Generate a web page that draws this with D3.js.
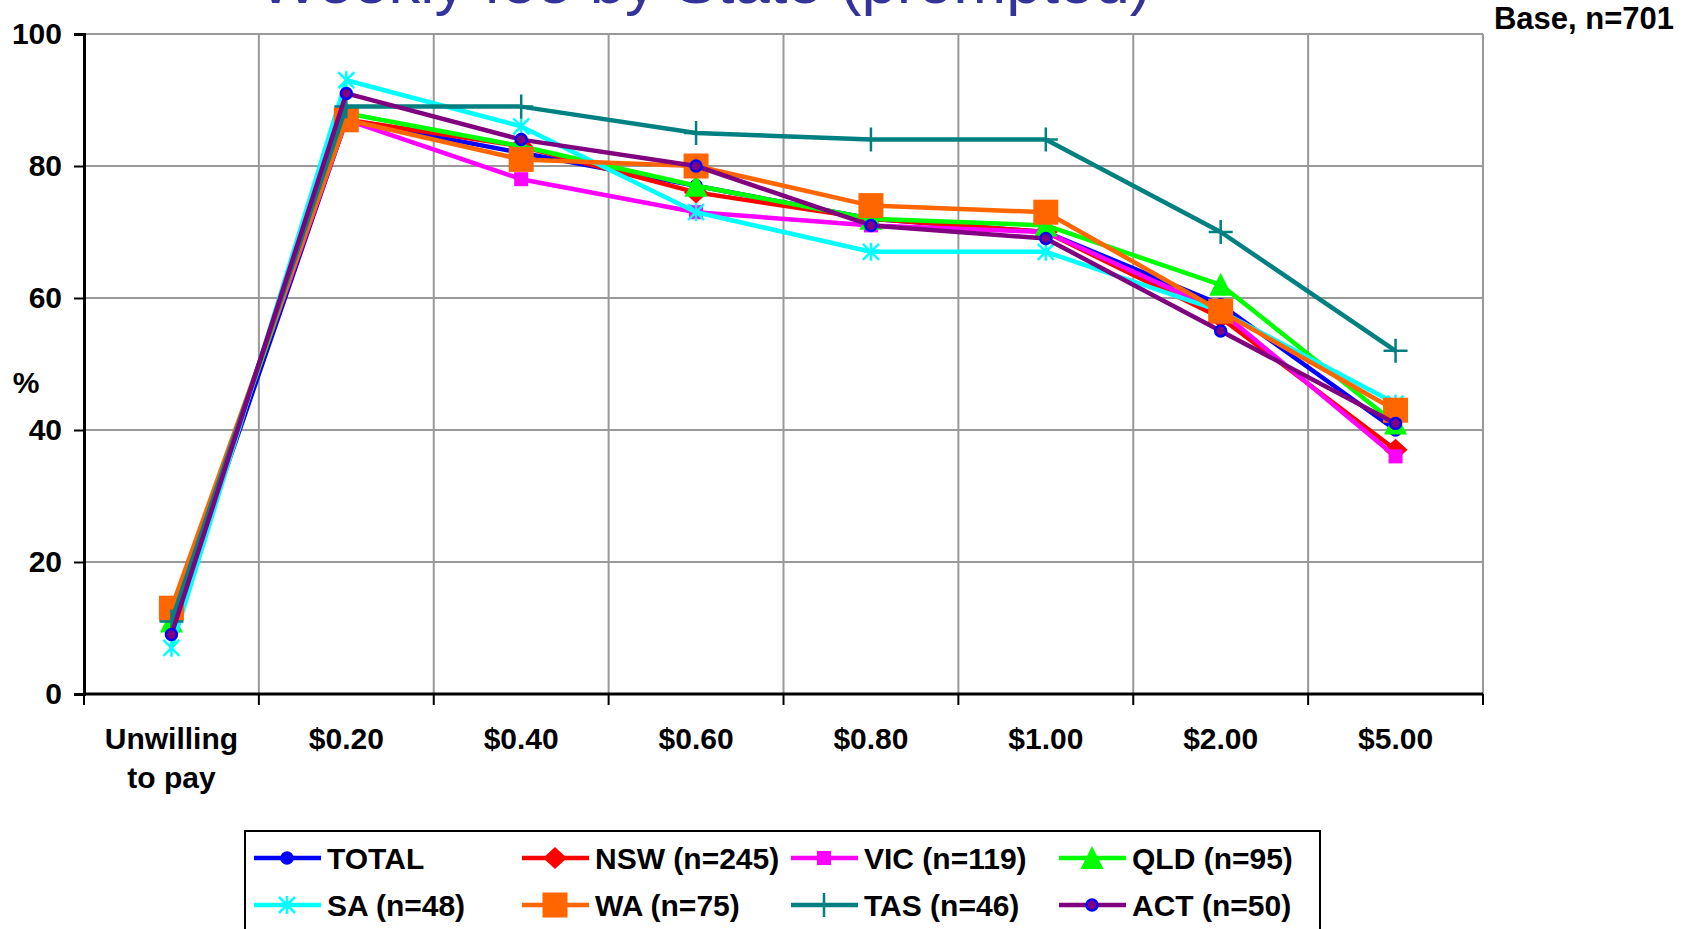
<!DOCTYPE html>
<html>
<head>
<meta charset="utf-8">
<script src="https://cdn.jsdelivr.net/npm/d3@7"></script>
<style>
  body { margin: 0; background: #fff; }
  svg { display: block; }
  text { font-family: 'Liberation Sans', Arial, sans-serif; }
</style>
</head>
<body>
<svg id="chart" width="1688" height="929"></svg>
<script>
// Price points offered
const categories = ["Unwilling to pay", "$0.20", "$0.40", "$0.60", "$0.80", "$1.00", "$2.00", "$5.00"];
const yTicks = [0, 20, 40, 60, 80, 100];

// % willing to pay, by state
const total = [10, 87, 82, 77, 72, 70, 59, 40];
const nsw   = [12, 87, 83, 76, 72, 70, 57, 37];
const vic   = [12, 87, 78, 73, 71, 70, 58, 36];
const qld   = [11, 88, 83, 77, 72, 71, 62, 41];
const sa    = [7, 93, 86, 73, 67, 67, 58, 44];
const wa    = [13, 87, 81, 80, 74, 73, 58, 43];
const tas   = [11, 89, 89, 85, 84, 84, 70, 52];
const act   = [9, 91, 84, 80, 71, 69, 55, 41];

const seriesNames = ["TOTAL", "NSW (n=245)", "VIC (n=119)", "QLD (n=95)",
                     "SA (n=48)", "WA (n=75)", "TAS (n=46)", "ACT (n=50)"];
const seriesValues = [total, nsw, vic, qld, sa, wa, tas, act];
const seriesColors = ["#0000FF", "#FF0000", "#FF00FF", "#00FF00",
                      "#00FFFF", "#FF6600", "#008080", "#800080"];
const seriesMarkers = ["circle", "diamond", "smallSquare", "triangle",
                       "asterisk", "bigSquare", "plus", "circleRing"];

const svg = d3.select("#chart");
const plot = { left: 84, right: 1483, top: 34, bottom: 694 };
const labelSize = 30;

const x = d3.scaleBand().domain(categories).range([plot.left, plot.right]).padding(0);
const y = d3.scaleLinear().domain([0, 100]).range([plot.bottom, plot.top]);
const cx = c => x(c) + x.bandwidth() / 2;

// Title (sits partly above the page edge)
svg.append("text")
  .attr("x", 705).attr("y", 3)
  .attr("text-anchor", "middle")
  .attr("font-size", 63.5)
  .attr("fill", "#333399")
  .text("Weekly fee by State (prompted)");

svg.append("text")
  .attr("x", 1674).attr("y", 29)
  .attr("text-anchor", "end")
  .attr("font-size", 31).attr("font-weight", "bold")
  .text("Base, n=701");

// Grid
const grid = svg.append("g");
grid.selectAll("line.h").data(yTicks.filter(d => d > 0)).join("line")
  .attr("x1", plot.left).attr("x2", plot.right)
  .attr("y1", d => y(d)).attr("y2", d => y(d))
  .attr("stroke", "#999").attr("stroke-width", 2);
grid.selectAll("line.v").data(categories.slice(1).concat(["__end"])).join("line")
  .attr("x1", (d, i) => i < categories.length - 1 ? x(d) : plot.right)
  .attr("x2", (d, i) => i < categories.length - 1 ? x(d) : plot.right)
  .attr("y1", plot.top).attr("y2", plot.bottom)
  .attr("stroke", "#999").attr("stroke-width", 2);

// Y axis
const yAxis = svg.append("g")
  .attr("transform", `translate(${plot.left},0)`)
  .call(d3.axisLeft(y).tickValues(yTicks).tickSize(10).tickPadding(12).tickFormat(d3.format("d")));
yAxis.select(".domain").attr("stroke", "#000").attr("stroke-width", 3);
yAxis.selectAll(".tick line").attr("stroke", "#000").attr("stroke-width", 2);
yAxis.selectAll(".tick text").attr("font-size", labelSize).attr("font-weight", "bold")
  .attr("font-family", "'Liberation Sans', Arial, sans-serif").attr("fill", "#000");

svg.append("text")
  .attr("x", 26).attr("y", 393)
  .attr("text-anchor", "middle")
  .attr("font-size", labelSize).attr("font-weight", "bold")
  .text("%");

// X axis: tick marks on category boundaries, labels centred in bands
const boundaries = categories.map(c => x(c)).concat([plot.right]);
const xg = svg.append("g");
xg.append("line")
  .attr("x1", plot.left).attr("x2", plot.right)
  .attr("y1", plot.bottom).attr("y2", plot.bottom)
  .attr("stroke", "#000").attr("stroke-width", 3);
xg.selectAll("line.tk").data(boundaries).join("line")
  .attr("x1", d => d).attr("x2", d => d)
  .attr("y1", plot.bottom).attr("y2", plot.bottom + 11)
  .attr("stroke", "#000").attr("stroke-width", 2);
const labelLines = c => c === "Unwilling to pay" ? ["Unwilling", "to pay"] : [c];
xg.selectAll("text.lbl").data(categories).join("text")
  .attr("x", d => cx(d))
  .attr("y", 749)
  .attr("text-anchor", "middle")
  .attr("font-size", labelSize).attr("font-weight", "bold")
  .each(function(d) {
    const t = d3.select(this);
    labelLines(d).forEach((s, i) => {
      t.append("tspan").attr("x", cx(d)).attr("dy", i === 0 ? 0 : 39).text(s);
    });
  });

// Marker drawing
function drawMarker(g, type, color, px, py) {
  const m = g.append("g").attr("transform", `translate(${px},${py})`);
  switch (type) {
    case "circle":
      m.append("circle").attr("r", 6).attr("fill", color).attr("stroke", color).attr("stroke-width", 1.5);
      break;
    case "circleRing":
      m.append("circle").attr("r", 5.5).attr("fill", color).attr("stroke", "#0000FF").attr("stroke-width", 2.5);
      break;
    case "diamond":
      m.append("path").attr("d", "M0,-11L12,0L0,11L-12,0Z").attr("fill", color);
      break;
    case "smallSquare":
      m.append("rect").attr("x", -7).attr("y", -7).attr("width", 14).attr("height", 14).attr("fill", color);
      break;
    case "bigSquare":
      m.append("rect").attr("x", -12.5).attr("y", -12.5).attr("width", 25).attr("height", 25).attr("fill", color);
      break;
    case "triangle":
      m.append("path").attr("d", "M0,-12L11.5,11L-11.5,11Z").attr("fill", color);
      break;
    case "asterisk":
      m.append("path").attr("d", "M-8,-8L8,8M-8,8L8,-8M0,-9L0,9")
        .attr("stroke", color).attr("stroke-width", 2.5).attr("fill", "none");
      break;
    case "plus":
      m.append("path").attr("d", "M-12,0L12,0M0,-12L0,12")
        .attr("stroke", color).attr("stroke-width", 2.5).attr("fill", "none");
      break;
  }
}

// Series lines and markers, drawn in legend order
const line = d3.line().x((d, i) => cx(categories[i])).y(d => y(d));
const seriesG = svg.append("g");
seriesValues.forEach((vals, si) => {
  const g = seriesG.append("g");
  g.append("path").datum(vals)
    .attr("d", line)
    .attr("fill", "none")
    .attr("stroke", seriesColors[si])
    .attr("stroke-width", 4.5)
    .attr("stroke-linejoin", "round");
  vals.forEach((v, i) => drawMarker(g, seriesMarkers[si], seriesColors[si], cx(categories[i]), y(v)));
});

// Legend
const legend = svg.append("g");
legend.append("rect")
  .attr("x", 245).attr("y", 831).attr("width", 1075).attr("height", 140)
  .attr("fill", "#fff").attr("stroke", "#000").attr("stroke-width", 2);
const colX = [254, 522, 791, 1059];
const rowY = [858, 905];
seriesNames.forEach((name, si) => {
  const lx = colX[si % 4], ly = rowY[Math.floor(si / 4)];
  const g = legend.append("g");
  g.append("line").attr("x1", lx).attr("x2", lx + 67).attr("y1", ly).attr("y2", ly)
    .attr("stroke", seriesColors[si]).attr("stroke-width", 4.5);
  drawMarker(g, seriesMarkers[si], seriesColors[si], lx + 33, ly);
  g.append("text").attr("x", lx + 73).attr("y", ly + 11)
    .attr("font-size", labelSize).attr("font-weight", "bold")
    .text(name);
});
</script>
</body>
</html>
